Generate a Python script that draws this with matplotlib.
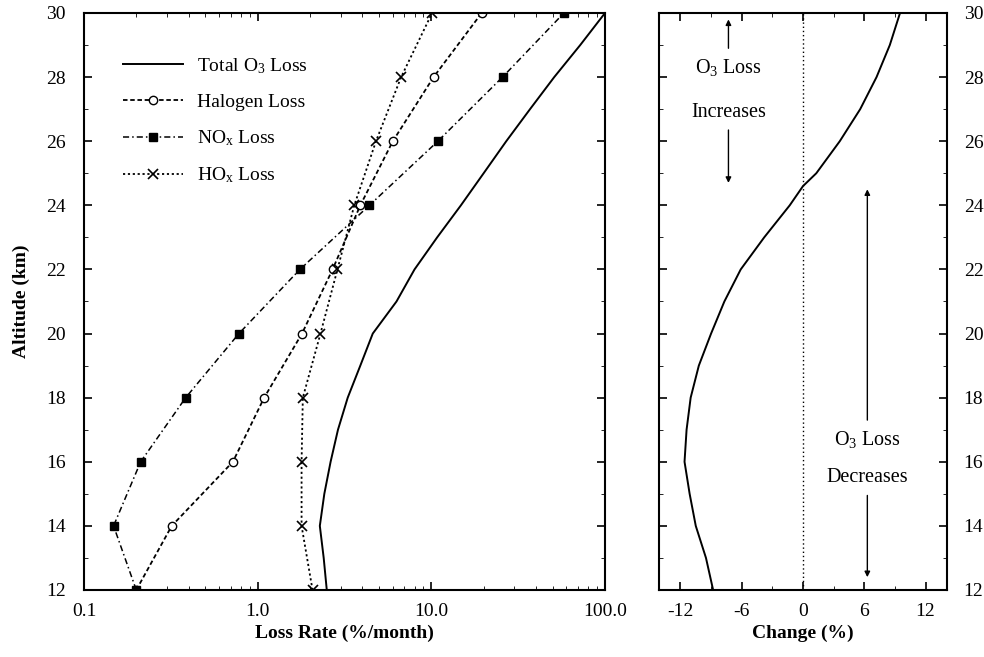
import matplotlib
matplotlib.use("Agg")
import matplotlib.pyplot as plt
from matplotlib.ticker import FixedLocator, MultipleLocator, LogLocator, NullFormatter, FixedFormatter

plt.rcParams["font.family"] = ["Liberation Serif", "DejaVu Serif"]
plt.rcParams["mathtext.fontset"] = "custom"
plt.rcParams["mathtext.rm"] = "Liberation Serif"
plt.rcParams["mathtext.it"] = "Liberation Serif:italic"
plt.rcParams["mathtext.bf"] = "Liberation Serif:bold"
plt.rcParams["axes.unicode_minus"] = False

# altitude grid (km)
alt_pts = [12, 14, 16, 18, 20, 22, 24, 26, 28, 30]
alt_fine = [12, 13, 14, 15, 16, 17, 18, 19, 20, 21, 22, 23, 24, 25, 26, 27, 28, 29, 30]

# loss rates (%/month)
total_loss = [2.5, 2.4, 2.28, 2.42, 2.63, 2.9, 3.3, 3.9, 4.6, 6.3, 8.0, 10.8, 14.8, 20, 27, 37, 51, 72, 100]
halogen_loss = [0.2, 0.32, 0.72, 1.09, 1.8, 2.7, 3.9, 6.0, 10.3, 19.5]
nox_loss = [0.2, 0.148, 0.212, 0.385, 0.78, 1.75, 4.4, 10.9, 25.7, 58]
hox_loss = [2.07, 1.79, 1.79, 1.82, 2.3, 2.88, 3.6, 4.8, 6.7, 10.1]

# change in ozone loss (%)
change_alt = [12, 13, 14, 15, 16, 17, 18, 19, 20, 21, 22, 23, 24, 24.6, 25, 26, 27, 28, 29, 30]
change_pct = [-8.8, -9.5, -10.5, -11.1, -11.6, -11.4, -11.0, -10.2, -9.0, -7.7, -6.1, -3.8, -1.3, 0.0, 1.3, 3.6, 5.6, 7.2, 8.5, 9.5]

FS = 14

fig = plt.figure(figsize=(9.84, 6.57), dpi=100)
W, H = 984, 657
ax1 = fig.add_axes([84 / W, 1 - 590 / H, (605 - 84) / W, (590 - 13) / H])
ax2 = fig.add_axes([659 / W, 1 - 590 / H, (947 - 659) / W, (590 - 13) / H])

ax1.plot(total_loss, alt_fine, color="k", lw=1.4, label="Total O$_3$ Loss")
ax1.plot(halogen_loss, alt_pts, color="k", lw=1.3, ls=(0, (2.5, 1.5)), marker="o",
         ms=6, mfc="white", mec="k", label="Halogen Loss")
ax1.plot(nox_loss, alt_pts, color="k", lw=1.1, ls=(0, (4, 2, 1, 2)), marker="s",
         ms=6, mfc="k", mec="k", label="NO$_\\mathrm{x}$ Loss")
ax1.plot(hox_loss, alt_pts, color="k", lw=1.3, ls=(0, (1.2, 1.5)), marker="x",
         ms=7, mew=1.2, label="HO$_\\mathrm{x}$ Loss")

ax1.set_xscale("log")
ax1.set_xlim(0.1, 100)
ax1.set_ylim(12, 30)
ax1.xaxis.set_major_locator(FixedLocator([0.1, 1, 10, 100]))
ax1.xaxis.set_major_formatter(FixedFormatter(["0.1", "1.0", "10.0", "100.0"]))
ax1.xaxis.set_minor_locator(LogLocator(base=10, subs=range(2, 10)))
ax1.xaxis.set_minor_formatter(NullFormatter())
ax1.yaxis.set_major_locator(MultipleLocator(2))
ax1.yaxis.set_minor_locator(MultipleLocator(1))
ax1.tick_params(which="both", direction="in", top=True, right=True, labelsize=FS)
ax1.tick_params(which="major", length=6, width=1.2)
ax1.tick_params(which="minor", length=3)
ax1.tick_params(axis="x", pad=9)
ax1.tick_params(axis="y", pad=13)
ax1.set_xlabel("Loss Rate (%/month)", fontsize=FS, fontweight="bold", labelpad=4)
ax1.set_ylabel("Altitude (km)", fontsize=FS, fontweight="bold", labelpad=12)
for s in ax1.spines.values():
    s.set_linewidth(1.5)

ax1.legend(loc="upper left", bbox_to_anchor=(0.075, 0.925), frameon=False,
           fontsize=FS, handlelength=3.1, labelspacing=0.9, handletextpad=0.7,
           borderpad=0, borderaxespad=0)

ax2.plot(change_pct, change_alt, color="k", lw=1.4)
ax2.axvline(0, color="k", lw=1.0, ls=(0, (1, 2)))
ax2.set_xlim(-14.1, 14.1)
ax2.set_ylim(12, 30)
ax2.xaxis.set_major_locator(FixedLocator([-12, -6, 0, 6, 12]))
ax2.xaxis.set_minor_locator(MultipleLocator(3))
ax2.yaxis.set_major_locator(MultipleLocator(2))
ax2.yaxis.set_minor_locator(MultipleLocator(1))
ax2.yaxis.tick_right()
ax2.tick_params(which="both", direction="in", top=True, left=True, right=True, labelsize=FS)
ax2.tick_params(which="major", length=6, width=1.2)
ax2.tick_params(which="minor", length=3)
ax2.tick_params(axis="x", pad=9)
ax2.tick_params(axis="y", pad=12)
ax2.set_xlabel("Change (%)", fontsize=FS, fontweight="bold", labelpad=4)
for s in ax2.spines.values():
    s.set_linewidth(1.5)

arrow = dict(arrowstyle="-|>", color="k", lw=1.0, mutation_scale=8, shrinkA=0, shrinkB=0)
ax2.text(-7.3, 28.3, "O$_3$ Loss", ha="center", va="center", fontsize=14.5)
ax2.text(-7.3, 26.9, "Increases", ha="center", va="center", fontsize=14.5)
ax2.annotate("", xy=(-7.3, 29.8), xytext=(-7.3, 28.9), arrowprops=arrow)
ax2.annotate("", xy=(-7.3, 24.7), xytext=(-7.3, 26.35), arrowprops=arrow)
ax2.text(6.3, 16.7, "O$_3$ Loss", ha="center", va="center", fontsize=14.5)
ax2.text(6.3, 15.5, "Decreases", ha="center", va="center", fontsize=14.5)
ax2.annotate("", xy=(6.3, 24.5), xytext=(6.3, 17.3), arrowprops=arrow)
ax2.annotate("", xy=(6.3, 12.4), xytext=(6.3, 14.95), arrowprops=arrow)

fig.savefig("out.png", dpi=100)
